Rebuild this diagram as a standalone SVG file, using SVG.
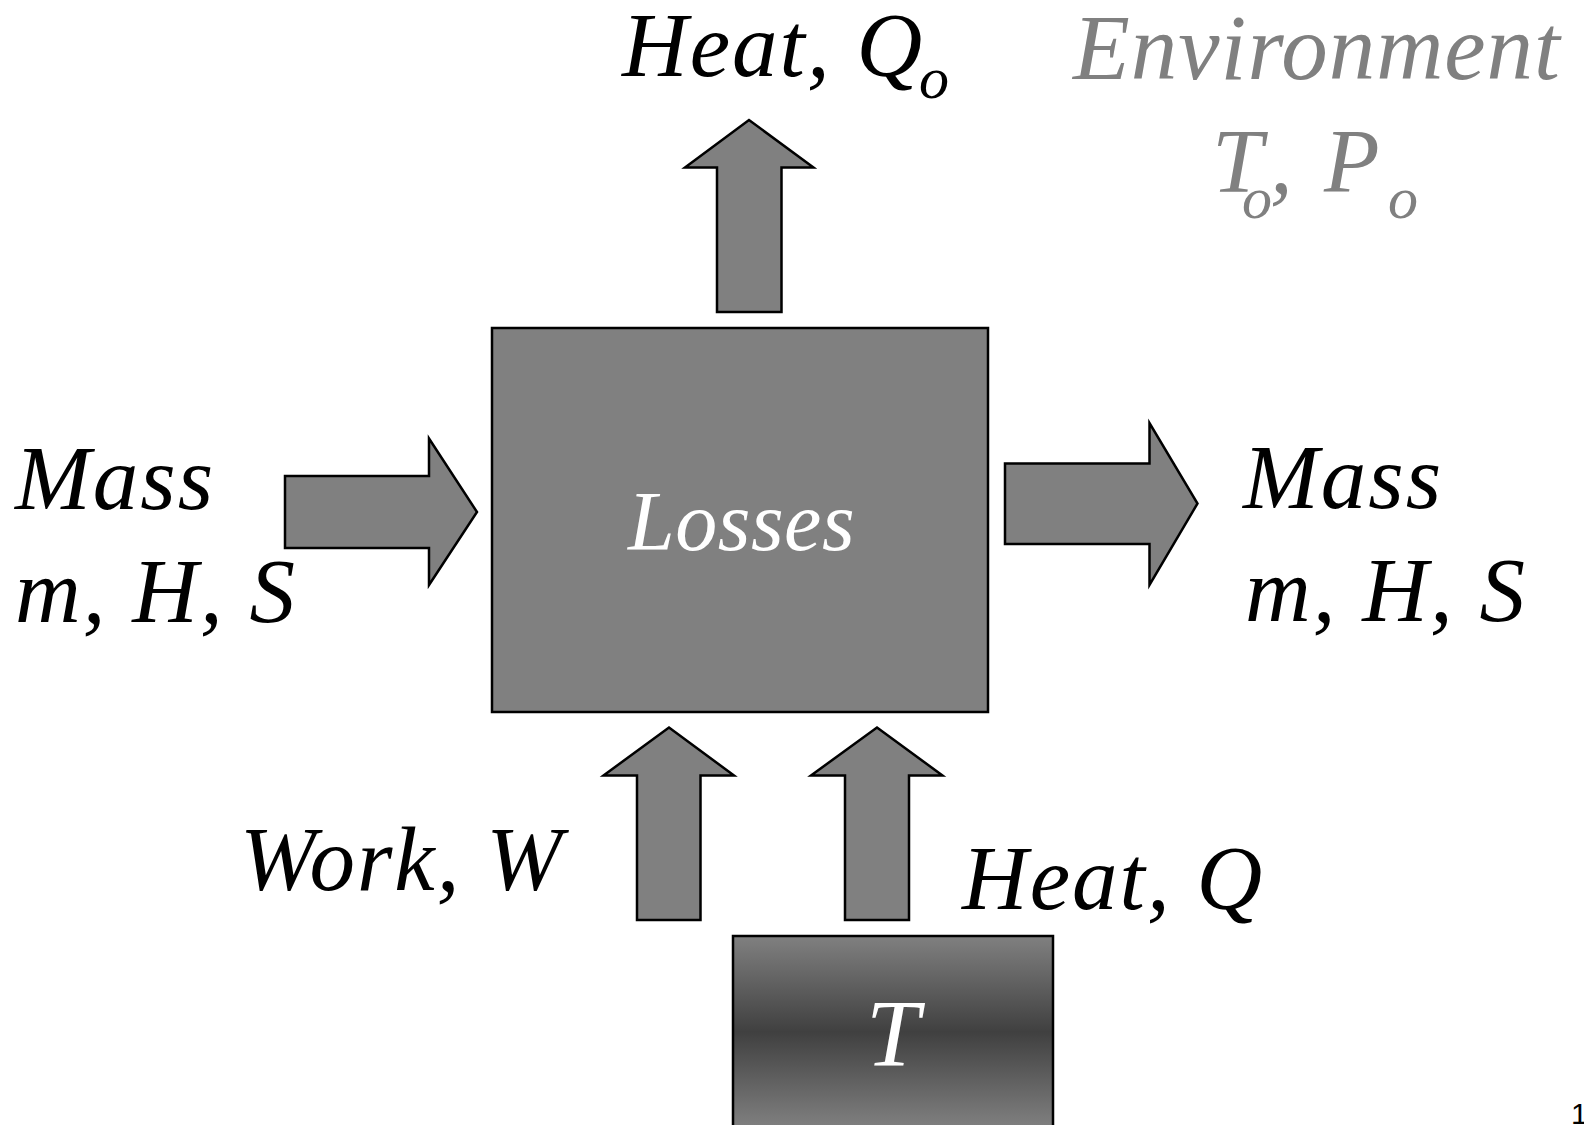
<svg xmlns="http://www.w3.org/2000/svg" width="1584" height="1125" viewBox="0 0 1584 1125">
<style>
.arrow{fill:#808080;stroke:#000;stroke-width:2.5;stroke-linejoin:miter}
.box{fill:#808080;stroke:#000;stroke-width:2.5}
.lbl{font-family:"Liberation Serif","Times New Roman",serif;font-style:italic;font-size:91px;fill:#000;letter-spacing:2px}
.grey{fill:#808080}
.white{fill:#fff}
</style>
<defs>
<linearGradient id="tgrad" x1="0" y1="0" x2="0" y2="1">
<stop offset="0" stop-color="#808080"/>
<stop offset="0.5" stop-color="#404040"/>
<stop offset="1" stop-color="#808080"/>
</linearGradient>
</defs>
<rect x="0" y="0" width="1584" height="1125" fill="#fff"/>
<g id="connectors">
<polygon class="arrow" points="717,312 717,167.5 685,167.5 749,120 813.5,167.5 781.5,167.5 781.5,312"/>
<polygon class="arrow" points="285,476 429,476 429,438.5 477,512 429,585 429,548 285,548"/>
<polygon class="arrow" points="1005,463.5 1149.5,463.5 1149.5,423 1197.5,503.5 1149.5,585 1149.5,544 1005,544"/>
<polygon class="arrow" points="637,920 637,775.5 603.5,775.5 669,727.5 734,775.5 700.5,775.5 700.5,920"/>
<polygon class="arrow" points="845,920 845,775.5 811,775.5 877,727.5 942.5,775.5 909,775.5 909,920"/>
</g>
<g id="losses">
<rect class="box" x="492" y="328" width="496" height="384"/>
<text class="lbl white" x="628" y="550" style="font-size:84px;letter-spacing:0.5px">Losses</text>
</g>
<g id="source-T">
<rect x="733" y="936" width="320" height="192" fill="url(#tgrad)" stroke="#000" stroke-width="2.5"/>
<text class="lbl white" x="866" y="1066" style="font-size:96px">T</text>
</g>
<g id="label-heat-out">
<text class="lbl" x="622" y="76">Heat, Q<tspan x="919" y="98" style="font-size:60px">o</tspan></text>
</g>
<g id="label-environment">
<text class="lbl grey" x="1073" y="79" style="font-size:93px;letter-spacing:1px">Environment</text>
<text class="lbl grey" x="1212" y="192">T<tspan x="1242" y="218" style="font-size:60px">o</tspan><tspan x="1270" y="192">,</tspan><tspan x="1324" y="192">P</tspan><tspan x="1388" y="218" style="font-size:60px">o</tspan></text>
</g>
<g id="label-mass-in">
<text class="lbl" x="15" y="509">Mass</text>
<text class="lbl" x="15" y="622">m, H, S</text>
</g>
<g id="label-mass-out">
<text class="lbl" x="1243" y="508">Mass</text>
<text class="lbl" x="1245" y="621">m, H, S</text>
</g>
<g id="label-work">
<text class="lbl" x="240" y="890">Work, W</text>
</g>
<g id="label-heat-in">
<text class="lbl" x="962" y="909">Heat, Q</text>
</g>
<text x="1571" y="1124" font-family="Liberation Sans, Arial, sans-serif" font-size="30" fill="#000">1</text>
</svg>
